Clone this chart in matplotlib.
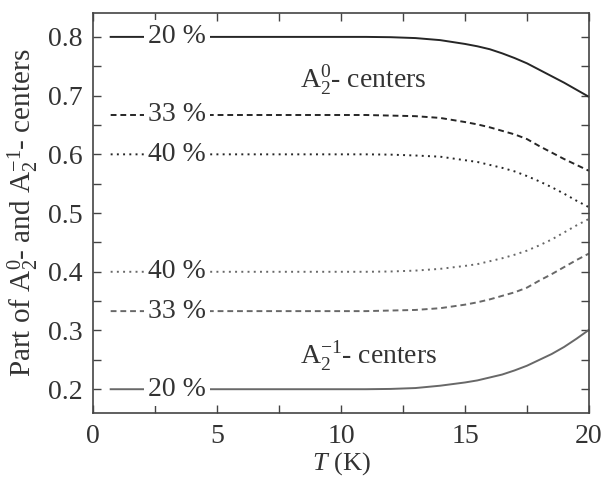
import matplotlib
matplotlib.use("Agg")
import matplotlib.pyplot as plt
from matplotlib.ticker import MultipleLocator, FormatStrFormatter

plt.rcParams['font.family'] = ['Liberation Serif', 'DejaVu Serif']
plt.rcParams['mathtext.fontset'] = 'custom'
plt.rcParams['mathtext.rm'] = 'Liberation Serif'
plt.rcParams['mathtext.it'] = 'Liberation Serif:italic'

T = [0.7, 10, 11, 12, 13, 14, 15, 15.5, 16, 16.5, 17, 17.5, 18, 18.5, 19, 19.5, 20]
a0_20 = [0.800, 0.800, 0.800, 0.7995, 0.798, 0.7945, 0.788, 0.784, 0.779, 0.772, 0.764, 0.755, 0.744, 0.733, 0.722, 0.710, 0.698]
a0_33 = [0.667, 0.667, 0.667, 0.666, 0.665, 0.662, 0.655, 0.651, 0.646, 0.640, 0.634, 0.626, 0.614, 0.603, 0.592, 0.582, 0.572]
a0_40 = [0.600, 0.600, 0.600, 0.5995, 0.598, 0.596, 0.590, 0.587, 0.582, 0.577, 0.571, 0.563, 0.554, 0.544, 0.533, 0.521, 0.510]
am_40 = [0.400, 0.400, 0.400, 0.4005, 0.402, 0.405, 0.410, 0.413, 0.418, 0.423, 0.429, 0.436, 0.445, 0.455, 0.467, 0.479, 0.490]
am_33 = [0.333, 0.333, 0.333, 0.334, 0.335, 0.338, 0.344, 0.348, 0.353, 0.359, 0.365, 0.373, 0.385, 0.396, 0.408, 0.420, 0.431]
am_20 = [0.200, 0.200, 0.200, 0.2005, 0.202, 0.206, 0.2115, 0.215, 0.220, 0.225, 0.232, 0.240, 0.250, 0.260, 0.272, 0.286, 0.301]
labels = ["20 %", "33 %", "40 %", "40 %", "33 %", "20 %"]
label_T = 3.38

dark = '#262626'
grey = '#686868'
dotted = (0, (1.0, 2.2))
dashed = (0, (3.0, 2.0))

series = [
    (a0_20, '-', dark),
    (a0_33, dashed, dark),
    (a0_40, dotted, dark),
    (am_40, dotted, grey),
    (am_33, dashed, grey),
    (am_20, '-', grey),
]

FS = 20

fig = plt.figure(figsize=(6.04, 4.79), dpi=100)
ax = fig.add_axes([0.1545, 0.1384, 0.8205, 0.8336])

for (vals, ls, col), lab in zip(series, labels):
    ax.plot(T, vals, linestyle=ls, color=col, lw=1.4, zorder=2)
    ax.text(label_T, vals[0], lab, fontsize=FS, color='#333333',
            ha='center', va='center', zorder=3,
            bbox=dict(boxstyle='square,pad=0.15', fc='white', ec='none'))

ax.text(10.9, 0.726, r'$\mathrm{A}_2^0$- centers', fontsize=FS, color='#333333',
        ha='center', va='center')
ax.text(11.1, 0.2555, r'$\mathrm{A}_2^{-1}$- centers', fontsize=FS, color='#333333',
        ha='center', va='center')

ax.set_xlim(0, 20)
ax.set_ylim(0.16, 0.84)
ax.xaxis.set_major_locator(MultipleLocator(5))
ax.xaxis.set_minor_locator(MultipleLocator(2.5))
ax.yaxis.set_major_locator(MultipleLocator(0.1))
ax.yaxis.set_minor_locator(MultipleLocator(0.05))
ax.yaxis.set_major_formatter(FormatStrFormatter('%.1f'))

ax.tick_params(which='both', direction='in', top=True, right=True,
               colors='#444444', labelcolor='#333333', labelsize=FS, width=1.0)
ax.tick_params(which='major', length=6, pad=8)
ax.tick_params(which='minor', length=6)
for s in ax.spines.values():
    s.set_color('#444444')
    s.set_linewidth(1.2)

ax.set_xlabel(r'$\mathit{T}$ (K)', fontsize=19, color='#333333')
ax.xaxis.set_label_coords(0.5, -0.095)
ax.set_ylabel(r'Part of $\mathrm{A}_2^0$- and $\mathrm{A}_2^{-1}$- centers',
              fontsize=21, color='#333333')
ax.yaxis.set_label_coords(-0.105, 0.5)

fig.savefig('out.png', dpi=100)
